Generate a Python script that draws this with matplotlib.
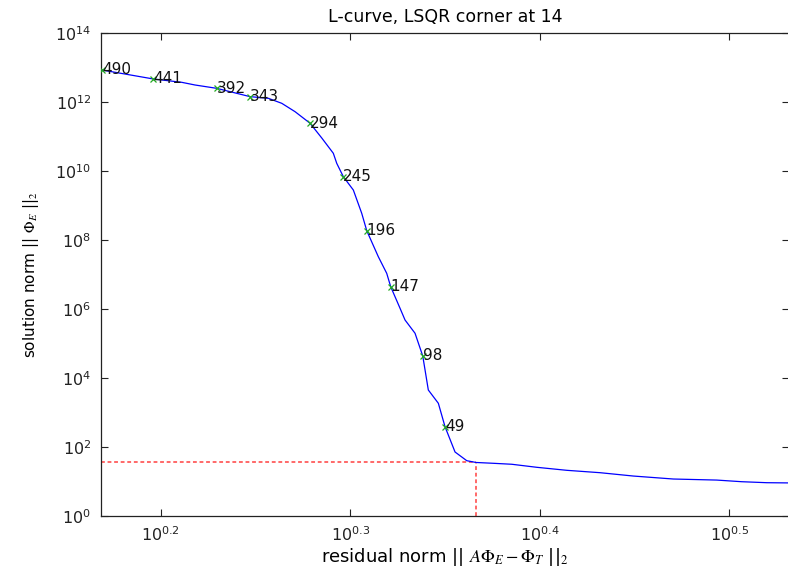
import matplotlib
matplotlib.use("Agg")
import matplotlib.pyplot as plt
from matplotlib.ticker import FixedLocator, FixedFormatter, NullLocator

plt.rcParams['font.family'] = ['DejaVu Sans']
plt.rcParams['mathtext.fontset'] = 'stix'

# L-curve (residual norm, solution norm)
residual_norm = [1.4755, 1.5708, 1.6259, 1.6524, 1.6966, 1.7666, 1.8063, 1.8360,
                 1.8659, 1.9002, 1.9274, 1.9547, 1.9628, 1.9786, 2.0028, 2.0233,
                 2.0357, 2.0645, 2.0857, 2.0958, 2.1197, 2.1326, 2.1587, 2.1790,
                 2.1851, 2.1938, 2.2207, 2.2388, 2.2662, 2.2987, 2.3248, 2.3742,
                 2.4278, 2.5028, 2.5956, 2.7027, 2.8142, 2.9545, 3.1143, 3.2104,
                 3.3095, 3.4251]
solution_norm = [8.47e12, 4.65e12, 3.72e12, 3.11e12, 2.49e12, 1.43e12, 1.28e12, 9.16e11,
                 5.24e11, 2.42e11, 9.06e10, 3.26e10, 1.67e10, 6.84e9, 2.81e9, 5.94e8,
                 1.86e8, 3.28e7, 1.08e7, 4.43e6, 1.05e6, 4.80e5, 1.98e5, 4.35e4,
                 1.71e4, 4.49e3, 1.85e3, 387.0, 71.6, 40.1, 35.6, 33.7,
                 31.6, 25.8, 21.1, 18.0, 14.4, 11.8, 11.0, 9.86,
                 9.23, 9.06]

# labelled iterations
labels = [490, 441, 392, 343, 294, 245, 196, 147, 98, 49]
label_res = [1.4755, 1.5708, 1.6966, 1.7666, 1.9002, 1.9786, 2.0357, 2.0958, 2.1790, 2.2388]
label_sol = [8.47e12, 4.65e12, 2.49e12, 1.43e12, 2.42e11, 6.84e9, 1.86e8, 4.43e6, 4.35e4, 387.0]

# corner
corner_res = 2.3248
corner_sol = 35.6

x_ticks = [10**0.2, 10**0.3, 10**0.4, 10**0.5]
x_tick_labels = [r'$\mathregular{10^{0.2}}$', r'$\mathregular{10^{0.3}}$',
                 r'$\mathregular{10^{0.4}}$', r'$\mathregular{10^{0.5}}$']
y_ticks = [1e0, 1e2, 1e4, 1e6, 1e8, 1e10, 1e12, 1e14]
y_tick_labels = [r'$\mathregular{10^{%d}}$' % e for e in range(0, 15, 2)]

fig = plt.figure(figsize=(7.88, 5.72), dpi=100)
ax = fig.add_axes([101/788, 1-516/572, 688/788, (516-33)/572])

ax.set_xscale('log')
ax.set_yscale('log')
ax.set_xlim(10**0.1685, 10**0.5315)
ax.set_ylim(1e0, 1e14)

ax.plot(residual_norm, solution_norm, '-', color='#0000ff', lw=0.9, zorder=3)
ax.plot(label_res, label_sol, 'x', color='#22aa22', ms=5, mew=0.9, zorder=4)
for lab, xr, ys in zip(labels, label_res, label_sol):
    ax.text(xr, ys, str(lab), ha='left', va='center', fontsize=11, color='#111111', zorder=5)

ax.plot([10**0.1685, corner_res], [corner_sol, corner_sol], color='#ff4040',
        lw=1.1, dashes=(2.5, 1.8), zorder=2)
ax.plot([corner_res, corner_res], [1e0, corner_sol], color='#ff4040',
        lw=1.1, dashes=(2.5, 1.8), zorder=2)

ax.xaxis.set_major_locator(FixedLocator(x_ticks))
ax.xaxis.set_major_formatter(FixedFormatter(x_tick_labels))
ax.yaxis.set_major_locator(FixedLocator(y_ticks))
ax.yaxis.set_major_formatter(FixedFormatter(y_tick_labels))
ax.xaxis.set_minor_locator(NullLocator())
ax.yaxis.set_minor_locator(NullLocator())
ax.tick_params(which='major', direction='in', length=5, width=0.8, top=True, right=True,
               labelsize=11.5, colors='#222222', pad=7)
for s in ax.spines.values():
    s.set_color('#222222')
    s.set_linewidth(0.9)

ax.set_title('L-curve, LSQR corner at 14', fontsize=12.5, pad=8)
ax.set_xlabel(r'residual norm || $A\Phi_E - \Phi_T$ ||$_2$', fontsize=13, labelpad=1)
ax.set_ylabel(r'solution norm || $\Phi_E$ ||$_2$', fontsize=11, labelpad=10)

fig.savefig('out.png', dpi=100)
